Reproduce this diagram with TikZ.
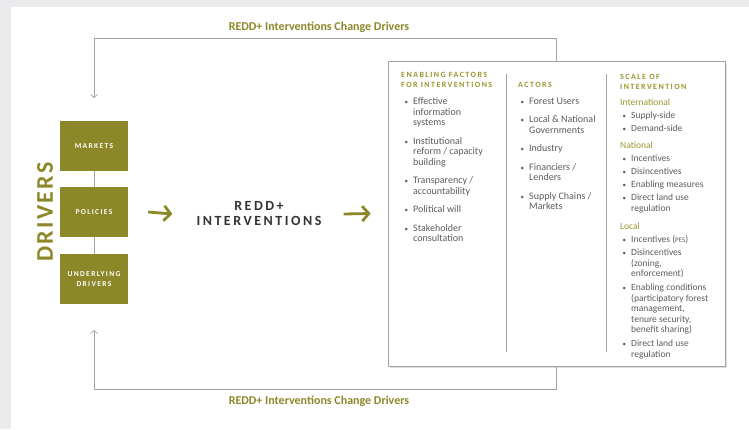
\documentclass[tikz,border=0pt]{standalone}
\usepackage{fontspec}
\setmainfont{Carlito}
\newfontfamily\spacedfont[LetterSpace=18]{Carlito}
\newfontfamily\widefont[LetterSpace=10]{Carlito}
\usetikzlibrary{arrows.meta}

\definecolor{reddolive}{HTML}{8C8829}
\definecolor{headolive}{HTML}{9A962E}
\definecolor{textgray}{HTML}{5C5C5C}
\definecolor{linegray}{HTML}{A3A3A3}
\definecolor{bggray}{HTML}{EBEBED}

\tikzset{
  driverbox/.style={fill=reddolive, minimum width=68pt, minimum height=50pt, inner sep=0pt,
    text=white, align=center, font=\spacedfont\bfseries\fontsize{7.5}{10}\selectfont},
  fbline/.style={draw=linegray, line width=0.7pt},
  fbarrow/.style={fbline, -{Straight Barb[length=3pt,width=7pt]}},
  bigarrow/.style={draw=reddolive, line width=2.8pt, -{Straight Barb[length=6.5pt,width=15pt]}},
  looplabel/.style={inner sep=0pt, text=reddolive, font=\bfseries\fontsize{12}{14}\selectfont},
  colhead/.style={anchor=base west, inner sep=0pt, align=left, text=headolive,
    font=\spacedfont\bfseries\fontsize{8}{10}\selectfont},
  subhead/.style={anchor=base west, inner sep=0pt, text=headolive, font=\fontsize{9.5}{10.5}\selectfont},
  bitem/.style={anchor=base west, inner sep=0pt, align=left, text=textgray,
    font=\fontsize{10}{10.5}\selectfont},
  sitem/.style={bitem, font=\fontsize{9.5}{10.5}\selectfont},
}
\newcommand\bl{\llap{{\scriptsize\textbullet}\hspace{5pt}}}

\begin{document}
\begin{tikzpicture}[x=1pt,y=-1pt]
  \useasboundingbox (0,0) rectangle (749,429);
  \fill[bggray] (0,0) rectangle (749,429);
  \fill[white] (11,7) rectangle (749,429);

  %Drivers
  \node[driverbox] (markets) at (94,146) {MARKETS};
  \node[driverbox] (policies) at (94,212) {POLICIES};
  \node[driverbox] (underlying) at (94,279) {UNDERLYING\\DRIVERS};
  \draw[fbline] (markets) -- (policies);
  \draw[fbline] (policies) -- (underlying);
  \node[rotate=90, inner sep=0pt, text=reddolive, font=\widefont\bfseries\fontsize{24}{24}\selectfont] (drivers) at (45,212) {DRIVERS};

  %Interventions
  \node[inner sep=0pt, align=center, text=black!80, font=\spacedfont\bfseries\fontsize{14}{15}\selectfont] (redd) at (259,214) {REDD+\\INTERVENTIONS};
  \fill[black!12] (390,64) rectangle (727,368);
  \node[draw=linegray, fill=white, line width=0.8pt, minimum width=337pt, minimum height=305pt, inner sep=0pt] (panel) at (556.5,213.5) {};
  \draw[bigarrow] ([xshift=20pt]policies.east) -- ([xshift=-24pt]redd.west);
  \draw[bigarrow] ([xshift=22pt]redd.east) -- ([xshift=-17pt]panel.west);

  %Boucle
  \coordinate (topleft) at (94,38);
  \coordinate (topin) at (94,98);
  \coordinate (botleft) at (94,389);
  \coordinate (botin) at (94,330);
  \draw[fbarrow] (panel.north) |- (topleft) -- (topin);
  \draw[fbarrow] (panel.south) |- (botleft) -- (botin);
  \node[looplabel] (toplabel) at (319,27) {REDD+ Interventions Change Drivers};
  \node[looplabel] (botlabel) at (319,401) {REDD+ Interventions Change Drivers};

  %Colonnes
  \coordinate (sepa) at (506,74);
  \coordinate (sepb) at (606,74);
  \draw[fbline] (sepa) -- ++(0,278);
  \draw[fbline] (sepb) -- ++(0,278);

  % (base = derniere ligne)
  \node[colhead] (enabling) at (401,87) {ENABLING FACTORS\\FOR INTERVENTIONS};
  \node[bitem] (e1) at (413,125.5) {\bl Effective\\information\\systems};
  \node[bitem] (e2) at (413,165) {\bl Institutional\\reform / capacity\\building};
  \node[bitem] (e3) at (413,194) {\bl Transparency /\\accountability};
  \node[bitem] (e4) at (413,212.5) {\bl Political will};
  \node[bitem] (e5) at (413,241.5) {\bl Stakeholder\\consultation};

  \node[colhead] (actors) at (518,87) {ACTORS};
  \node[bitem] (a1) at (529,104.5) {\bl Forest Users};
  \node[bitem] (a2) at (529,133) {\bl Local \& National\\Governments};
  \node[bitem] (a3) at (529,151.5) {\bl Industry};
  \node[bitem] (a4) at (529,180.5) {\bl Financiers /\\Lenders};
  \node[bitem] (a5) at (529,209.5) {\bl Supply Chains /\\Markets};

  \node[colhead] (scale) at (620,89) {SCALE OF\\INTERVENTION};
  \node[subhead] (intl) at (620,105.5) {International};
  \node[sitem] (s1) at (631,118.5) {\bl Supply-side};
  \node[sitem] (s2) at (631,131.5) {\bl Demand-side};
  \node[subhead] (natl) at (620,148.5) {National};
  \node[sitem] (s3) at (631,161.5) {\bl Incentives};
  \node[sitem] (s4) at (631,174.5) {\bl Disincentives};
  \node[sitem] (s5) at (631,187.5) {\bl Enabling measures};
  \node[sitem] (s6) at (631,211) {\bl Direct land use\\regulation};
  \node[subhead] (local) at (620,229.5) {Local};
  \node[sitem] (s7) at (631,242.5) {\bl Incentives ({\scriptsize PES})};
  \node[sitem] (s8) at (631,276.5) {\bl Disincentives\\(zoning,\\enforcement)};
  \node[sitem] (s9) at (631,332.5) {\bl Enabling conditions\\(participatory forest\\management,\\tenure security,\\benefit sharing)};
  \node[sitem] (s10) at (631,357) {\bl Direct land use\\regulation};
\end{tikzpicture}
\end{document}
